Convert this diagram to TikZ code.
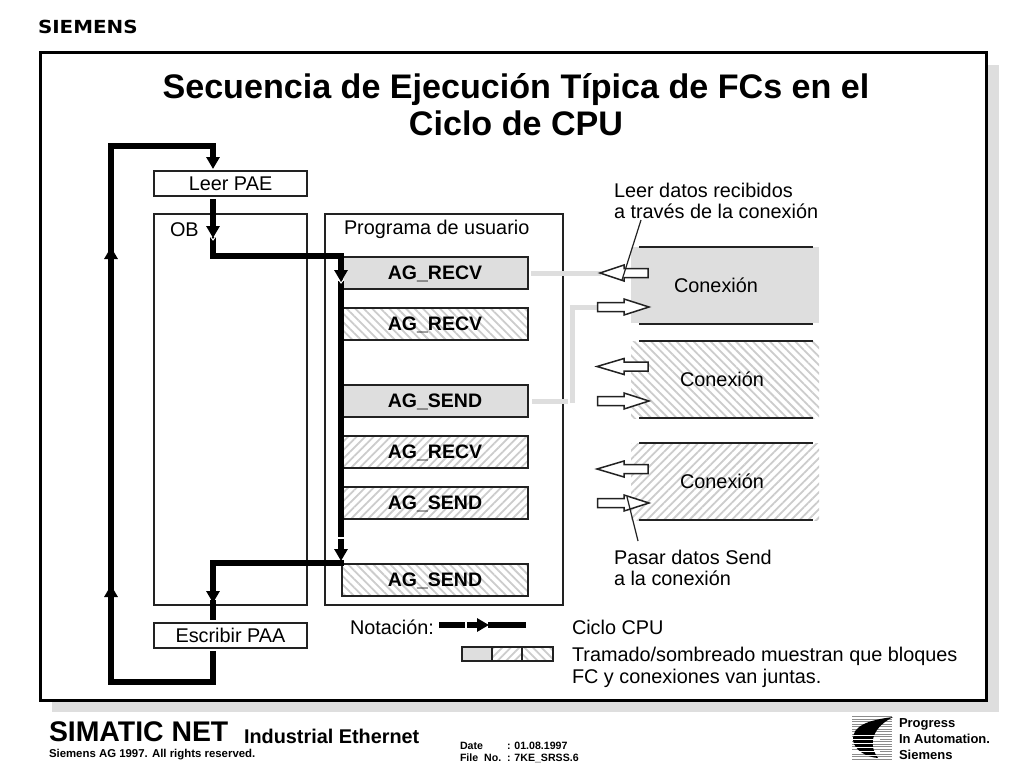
\documentclass[tikz,border=0pt]{standalone}
\usepackage{fontspec}
\setmainfont{Liberation Sans}
\newfontfamily\logofont{DejaVu Sans}
\usetikzlibrary{arrows.meta,patterns.meta,calc}
\definecolor{palegray}{HTML}{DEDEDE}
\definecolor{hatchc}{HTML}{CCCCCC}
\definecolor{inkc}{HTML}{222222}
\tikzset{
  every node/.style={inner sep=0,outer sep=0},
  plainbox/.style={draw=inkc,line width=1.7pt,fill=white},
  block/.style={draw=inkc,line width=1.7pt,font=\fontsize{19.5}{22}\selectfont\bfseries,anchor=north west,minimum width=186,minimum height=32,text height=13,text depth=0},
  graybg/.style={fill=palegray},
  hatchA/.style={pattern={Lines[angle=135,distance=6pt,line width=1.8pt]},pattern color=hatchc},
  hatchB/.style={pattern={Lines[angle=45,distance=6pt,line width=1.8pt]},pattern color=hatchc},
  lbl/.style={font=\fontsize{19.85}{22}\selectfont,anchor=base west},
  flow/.style={line width=5.8pt,line cap=butt,line join=miter,draw=black},
  flowarrow/.style={flow,-{Triangle[length=12pt,width=13pt]}},
  link/.style={line width=5pt,draw=palegray},
  blockarrow/.style={draw=inkc,fill=white,line width=1.5pt,line join=miter},
  rulex/.style={line width=1.7pt,draw=inkc},
  pointer/.style={line width=1.2pt,draw=inkc},
}
\begin{document}
\begin{tikzpicture}[x=1pt,y=-1pt]
\useasboundingbox (0,0) rectangle (1024,768);
\fill[white] (0,0) rectangle (1024,768);
% logo
\node[anchor=west,font=\fontsize{18}{18}\logofont\bfseries,xscale=1.105] (siemens) at (38,27) {SIEMENS};
% frame
\fill[palegray] (52,65) rectangle (999,712);
\node[draw=black,line width=3pt,fill=white,anchor=north west,minimum width=946,minimum height=647] (frame) at (40,53) {};
\node[font=\fontsize{34.1}{37}\selectfont\bfseries,align=center] (title) at (516,105) {Secuencia de Ejecución Típica de FCs en el\\Ciclo de CPU};
% containers
\node[plainbox,anchor=north west,minimum width=153,minimum height=25,font=\fontsize{19.85}{22}\selectfont] (leer) at (154,171) {Leer PAE};
\node[plainbox,anchor=north west,minimum width=153,minimum height=391] (ob) at (154,214) {};
\node[plainbox,anchor=north west,minimum width=238,minimum height=391] (prog) at (325,214) {};
\node[plainbox,anchor=north west,minimum width=153,minimum height=25,font=\fontsize{19.85}{22}\selectfont] (esc) at (154,623) {Escribir PAA};
\node[lbl] (oblbl) at (170,236) {OB};
\node[lbl] (proglbl) at (344,234) {Programa de usuario};
% blocks
\node[block,graybg] (r1) at (342,257) {AG\_RECV};
\node[block,hatchA] (r2) at (342,308) {};
\node[block,draw=none] at (342,308) {AG\_RECV};
\node[block,graybg] (s1) at (342,385) {AG\_SEND};
\node[block,hatchB] (r3) at (342,436) {};
\node[block,draw=none] at (342,436) {AG\_RECV};
\node[block,hatchB] (s2) at (342,487) {};
\node[block,draw=none] at (342,487) {AG\_SEND};
\node[block,hatchA] (s3) at (342,564) {};
\node[block,draw=none] at (342,564) {AG\_SEND};
% connexions
\fill[palegray] (631,247) rectangle (819,323);
\fill[hatchA] (631,341) rectangle (819,418);
\fill[hatchB] (631,443) rectangle (819,520);
\foreach \a/\b in {247/324,341/418,443/520}{
  \draw[rulex] (639,\a) -- (813,\a);
  \draw[rulex] (639,\b) -- (813,\b);
}
\node[font=\fontsize{19.85}{22}\selectfont] (c1) at (716,285) {Conexión};
\node[font=\fontsize{19.85}{22}\selectfont] (c2) at (722,379) {Conexión};
\node[font=\fontsize{19.85}{22}\selectfont] (c3) at (722,481) {Conexión};
% links
\coordinate (lk1) at (601,273);
\coordinate (lk2) at (599,307);
\draw[link] (r1.east) ++(3,0) -- (lk1);
\draw[link] (s1.east) ++(4,0) -- (568,401);
\draw[link] (572,403) -- (572,307) -- (lk2);
% block arrows
\draw[blockarrow] (600,273) -- (624,265) -- (624,268.5) -- (648,268.5) -- (648,277.5) -- (624,277.5) -- (624,281) -- cycle;
\foreach \yy in {366.5,469}{
  \draw[blockarrow] (597,\yy) -- (624,\yy-8) -- (624,\yy-4.5) -- (648,\yy-4.5) -- (648,\yy+4.5) -- (624,\yy+4.5) -- (624,\yy+8) -- cycle;
}
\foreach \yy in {307,401,503}{
  \draw[blockarrow] (649,\yy) -- (624,\yy-8) -- (624,\yy-4.5) -- (597.5,\yy-4.5) -- (597.5,\yy+4.5) -- (624,\yy+4.5) -- (624,\yy+8) -- cycle;
}
% flows
\coordinate (tl) at (111,146);
\coordinate (bl) at (111,682);
\coordinate (tr) at (213,146);
\coordinate (br) at (213,682);
\draw[flow] (br|-esc.south) ++(0,3) -- (br) -- (bl) -- (tl) -- (tr) -- (213,159);
\draw[flowarrow] (213,150) -- (213,169);
\draw[flow] (213,199) -- (213,228);
\draw[flowarrow] (213,220) -- (213,238);
\draw[flow] (213,237) -- (213,256) -- (344,256);
\draw[flow] (341,253) -- (341,270);
\draw[flowarrow] (341,262) -- (341,282);
\draw[flow] (341,281) -- (341,537);
\draw[flow] (341,539) -- (341,552);
\draw[flowarrow] (341,542) -- (341,561);
\draw[flow] (344,563) -- (213,563) -- (213,592);
\draw[flowarrow] (213,585) -- (213,603);
\draw[flow] (213,600) -- (213,620);
\draw[flowarrow] (111,262) -- (111,247);
\draw[flowarrow] (111,600) -- (111,585);
% white notches
\draw[white,line width=1pt] (210,236) -- (213,240) -- (216,236);
\draw[white,line width=1pt] (338,279) -- (341,283) -- (344,279);
% labels
\node[lbl] (t1) at (614,197) {Leer datos recibidos};
\node[lbl] (t2) at (614,218) {a través de la conexión};
\draw[pointer] (641,220) -- (622,280);
\node[lbl] (t3) at (614,564) {Pasar datos Send};
\node[lbl] (t4) at (614,585) {a la conexión};
\draw[pointer] (638,541) -- (627,497);
% notation
\node[lbl] (n0) at (350,634) {Notación:};
\draw[flow] (439,625) -- (465,625);
\draw[flow] (467,625) -- (480,625);
\draw[flowarrow] (470,625) -- (489,625);
\draw[flow] (488,625) -- (526,625);
\node[draw=inkc,line width=1.7pt,graybg,anchor=north west,minimum width=30,minimum height=14] (lg1) at (462,647) {};
\node[draw=inkc,line width=1.7pt,hatchB,anchor=north west,minimum width=30,minimum height=14] (lg2) at (492,647) {};
\node[draw=inkc,line width=1.7pt,hatchA,anchor=north west,minimum width=31,minimum height=14] (lg3) at (522,647) {};
\node[lbl] (n1) at (572,634) {Ciclo CPU};
\node[lbl] (n2) at (572,661) {Tramado/sombreado muestran que bloques};
\node[lbl] (n3) at (572,683) {FC y conexiones van juntas.};
% footer
\node[anchor=base west,font=\fontsize{28.4}{30}\selectfont\bfseries] (f1) at (49,741) {SIMATIC NET};
\node[anchor=base west,font=\fontsize{19.85}{22}\selectfont\bfseries] (f2) at (244,743) {Industrial Ethernet};
\node[anchor=base west,font=\fontsize{11.4}{13}\selectfont\bfseries] (f3) at (49,757) {Siemens AG 1997. All rights reserved.};
\node[anchor=base west,font=\fontsize{10.6}{12}\selectfont\bfseries] (d1) at (460,749) {Date};
\node[anchor=base west,font=\fontsize{10.6}{12}\selectfont\bfseries] (d2) at (507,749) {: 01.08.1997};
\node[anchor=base west,font=\fontsize{10.6}{12}\selectfont\bfseries] (d3) at (460,761) {File\ \ No.};
\node[anchor=base west,font=\fontsize{10.6}{12}\selectfont\bfseries] (d4) at (507,761) {: 7KE\_SRSS.6};
% progress logo
\foreach \yy in {716.5,719,...,759}{\draw[black!45,line width=1pt] (852,\yy) -- (892,\yy);}
\fill[black] (893,717) .. controls (868,720) and (852,726) .. (853,740) .. controls (854,750) and (866,757) .. (878,758) .. controls (870,748) and (868,730) .. (893,717);
\foreach \yy in {735,739,...,755}{\draw[white,line width=.7pt] (852,\yy) -- (880,\yy);}
\node[anchor=base west,font=\fontsize{13}{14}\selectfont\bfseries] (p1) at (899,727) {Progress};
\node[anchor=base west,font=\fontsize{13}{14}\selectfont\bfseries] (p2) at (899,743) {In Automation.};
\node[anchor=base west,font=\fontsize{13}{14}\selectfont\bfseries] (p3) at (899,759) {Siemens};
\end{tikzpicture}
\end{document}
